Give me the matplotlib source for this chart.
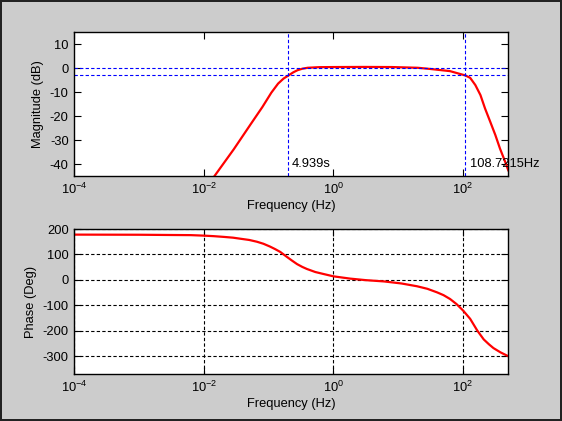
import matplotlib
matplotlib.use("Agg")
import matplotlib.pyplot as plt
from matplotlib.ticker import FixedLocator, NullLocator

plt.rcParams['font.family'] = ['Liberation Sans', 'DejaVu Sans']
plt.rcParams['axes.unicode_minus'] = False
plt.rcParams['mathtext.fontset'] = 'custom'
plt.rcParams['mathtext.rm'] = 'Liberation Sans'

# magnitude response
mag_freq = [0.013, 0.0146, 0.029, 0.053, 0.08, 0.11, 0.14, 0.17, 0.2025, 0.24,
            0.28, 0.33, 0.4, 0.6, 1, 3, 8, 20, 31.4, 63, 108.7215, 129, 155,
            186, 219, 263, 316, 372, 447, 500]
mag_db = [-47, -45, -33.8, -23.3, -16.2, -10.2, -6.4, -4.3, -3, -1.7,
          -0.8, -0.2, 0.2, 0.45, 0.5, 0.55, 0.5, 0.2, -0.3, -1.2, -3, -4, -7,
          -11.2, -16.8, -22.3, -27.9, -33.5, -39, -42.6]

# phase response
ph_freq = [1e-4, 1e-3, 0.00316, 0.0063, 0.01, 0.0141, 0.0204, 0.0282, 0.0363,
           0.0501, 0.066, 0.0832, 0.105, 0.126, 0.151, 0.19, 0.229, 0.275,
           0.331, 0.389, 0.525, 0.708, 1, 1.82, 3.16, 6.03, 11.2, 19.5, 28.2,
           39.8, 50.1, 63.1, 79.4, 100, 129, 166, 209, 251, 295, 380, 500]
ph_deg = [178, 177.5, 176.5, 176, 174, 172, 169, 166, 162,
          157, 150, 142, 131, 121, 110, 91, 76, 62,
          51, 43, 31, 23, 14, 5, -1, -6, -14, -25, -35,
          -49, -60, -75, -95, -120, -153, -199, -234, -253, -268, -285, -300]

f_low = 0.2025      # 1/4.939s
f_high = 108.7215
low_label = '4.939s'
high_label = '108.7215Hz'

fig = plt.figure(figsize=(5.62, 4.21), dpi=100, facecolor='#cccccc',
                 edgecolor='#222222', linewidth=1.5)

ax1 = fig.add_axes([0.1322, 0.5819, 0.7722, 0.3413])
ax2 = fig.add_axes([0.1322, 0.1116, 0.7722, 0.3444])

blue_dash = dict(color='blue', lw=0.8, ls=(0, (3, 2)))

ax1.plot(mag_freq, mag_db, color='red', lw=1.6)
ax1.axhline(0, **blue_dash)
ax1.axhline(-3, **blue_dash)
ax1.axvline(f_low, **blue_dash)
ax1.axvline(f_high, **blue_dash)
ax1.annotate(low_label, xy=(f_low, -40), xytext=(2.5, 0), textcoords='offset points',
             va='center', ha='left', fontsize=9.3)
ax1.annotate(high_label, xy=(f_high, -40), xytext=(3, 0), textcoords='offset points',
             va='center', ha='left', fontsize=9.3, annotation_clip=False)
ax1.set_xscale('log')
ax1.set_xlim(1e-4, 500)
ax1.set_ylim(-45, 15)
ax1.yaxis.set_major_locator(FixedLocator([-40, -30, -20, -10, 0, 10]))
ax1.set_ylabel('Magnitude (dB)', fontsize=9.3, labelpad=4)
ax1.set_xlabel('Frequency (Hz)', fontsize=9.3, labelpad=2)

ax2.plot(ph_freq, ph_deg, color='red', lw=1.6)
ax2.set_xscale('log')
ax2.set_xlim(1e-4, 500)
ax2.set_ylim(-370, 200)
ax2.yaxis.set_major_locator(FixedLocator([-300, -200, -100, 0, 100, 200]))
ax2.grid(True, color='black', lw=0.8, ls=(0, (3, 2)))
ax2.set_ylabel('Phase (Deg)', fontsize=9.3, labelpad=4)
ax2.set_xlabel('Frequency (Hz)', fontsize=9.3, labelpad=2)

for ax in (ax1, ax2):
    ax.xaxis.set_major_locator(FixedLocator([1e-4, 1e-2, 1, 1e2]))
    ax.xaxis.set_minor_locator(NullLocator())
    ax.tick_params(direction='in', length=5, width=0.8, top=True, right=True,
                   labelsize=9.3, pad=4)
    for sp in ax.spines.values():
        sp.set_linewidth(1.0)

fig.savefig('out.png', dpi=100, facecolor=fig.get_facecolor(), edgecolor=fig.get_edgecolor())
